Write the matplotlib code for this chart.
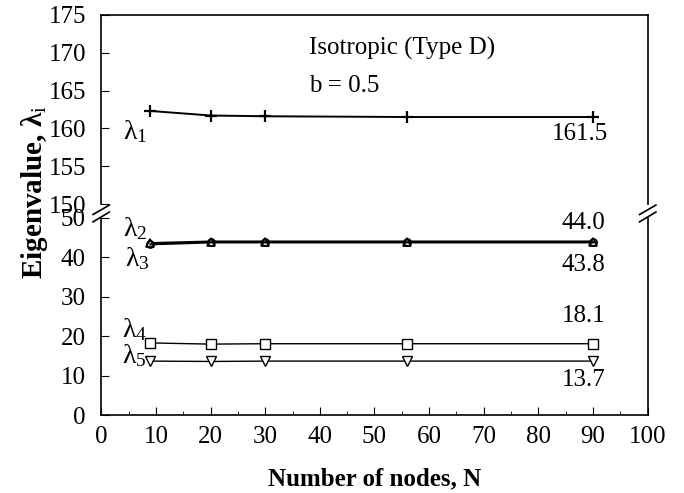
import numpy as np
import matplotlib.pyplot as plt
from matplotlib.ticker import MultipleLocator

plt.rcParams['font.family'] = ['Liberation Serif', 'DejaVu Serif']
plt.rcParams['mathtext.fontset'] = 'custom'
plt.rcParams['mathtext.rm'] = 'Liberation Serif'
plt.rcParams['mathtext.it'] = 'Liberation Serif'
plt.rcParams['mathtext.bf'] = 'Liberation Serif:bold'

# data
nodes = [9, 20, 30, 56, 90]
lam1 = [162.3, 161.7, 161.6, 161.5, 161.5]
lam2 = [43.6, 44.0, 44.0, 44.0, 44.0]
lam3 = [43.3, 43.8, 43.8, 43.8, 43.8]
lam4 = [18.3, 18.0, 18.1, 18.1, 18.1]
lam5 = [13.7, 13.6, 13.7, 13.7, 13.7]
end_labels = ['161.5', '44.0', '43.8', '18.1', '13.7']

fig = plt.figure(figsize=(6.84, 4.93), dpi=100)
L, W = 0.148, 0.799
ax_top = fig.add_axes([L, 0.586, W, 0.384])
ax_bot = fig.add_axes([L, 0.158, W, 0.400])

fs = 18
lfs = 20

# upper panel (lambda 1)
ax_top.plot(nodes, lam1, color='black', lw=1.4, marker='+', ms=8, mew=1.6)
ax_top.set_xlim(0, 100)
ax_top.set_ylim(150, 175)
ax_top.yaxis.set_major_locator(MultipleLocator(5))
ax_top.spines['bottom'].set_visible(False)
ax_top.tick_params(axis='x', bottom=False, labelbottom=False)
ax_top.tick_params(axis='y', direction='in', length=6, labelsize=fs, pad=11)

# lower panel (lambda 2..5)
ax_bot.plot(nodes, lam2, color='black', lw=1.6, marker='^', ms=6, mfc='white', mew=1.3)
ax_bot.plot(nodes, lam3, color='black', lw=1.6, marker='o', ms=5, mfc='none', mew=1.3)
ax_bot.plot(nodes, lam4, color='black', lw=1.0, marker='s', ms=7, mfc='white', mew=1.0)
ax_bot.plot(nodes, lam5, color='black', lw=1.0, marker='v', ms=7, mfc='white', mew=1.0)
ax_bot.set_xlim(0, 100)
ax_bot.set_ylim(0, 50)
ax_bot.spines['top'].set_visible(False)
ax_bot.xaxis.set_major_locator(MultipleLocator(10))
ax_bot.xaxis.set_minor_locator(MultipleLocator(5))
ax_bot.yaxis.set_major_locator(MultipleLocator(10))
ax_bot.tick_params(axis='x', which='major', direction='in', length=6, labelsize=fs, pad=8)
ax_bot.tick_params(axis='x', which='minor', direction='in', length=3)
ax_bot.tick_params(axis='y', direction='in', length=6, labelsize=fs, pad=11)

for ax in (ax_top, ax_bot):
    for s in ax.spines.values():
        s.set_linewidth(1.2)

# break marks on both spines
d = 0.015
for x0 in (0, 1):
    ax_top.plot([x0 - d, x0 + d], [-0.035 - 0.02, -0.035 + 0.03],
                transform=ax_top.transAxes, color='black', lw=1.2, clip_on=False)
    ax_bot.plot([x0 - d, x0 + d], [1.0 - 0.02, 1.0 + 0.03],
                transform=ax_bot.transAxes, color='black', lw=1.2, clip_on=False)

# annotations
ax_top.text(38.0, 170.6, 'Isotropic (Type D)', fontsize=fs, va='center')
ax_top.text(38.0, 165.6, 'b = 0.5', fontsize=fs, va='center')
ax_top.text(4.0, 159.6, r'$\lambda_1$', fontsize=lfs, va='center')
ax_top.text(87.6, 159.2, end_labels[0], fontsize=fs, va='center', ha='center')

ax_bot.text(4.0, 47.3, r'$\lambda_2$', fontsize=lfs, va='center')
ax_bot.text(4.3, 39.6, r'$\lambda_3$', fontsize=lfs, va='center')
ax_bot.text(3.8, 21.6, r'$\lambda_4$', fontsize=lfs, va='center')
ax_bot.text(3.8, 15.0, r'$\lambda_5$', fontsize=lfs, va='center')
ax_bot.text(88.2, 48.8, end_labels[1], fontsize=fs, va='center', ha='center')
ax_bot.text(88.2, 38.0, end_labels[2], fontsize=fs, va='center', ha='center')
ax_bot.text(88.2, 25.2, end_labels[3], fontsize=fs, va='center', ha='center')
ax_bot.text(88.2, 8.8, end_labels[4], fontsize=fs, va='center', ha='center')

ax_bot.set_xlabel('Number of nodes, N', fontsize=fs, fontweight='bold', labelpad=14)
fig.text(0.05, 0.61, r'Eigenvalue, $\mathbf{\lambda}_{\mathrm{i}}$', rotation=90,
         fontsize=21, fontweight='bold', va='center', ha='center')

fig.savefig('out.png', dpi=100)
